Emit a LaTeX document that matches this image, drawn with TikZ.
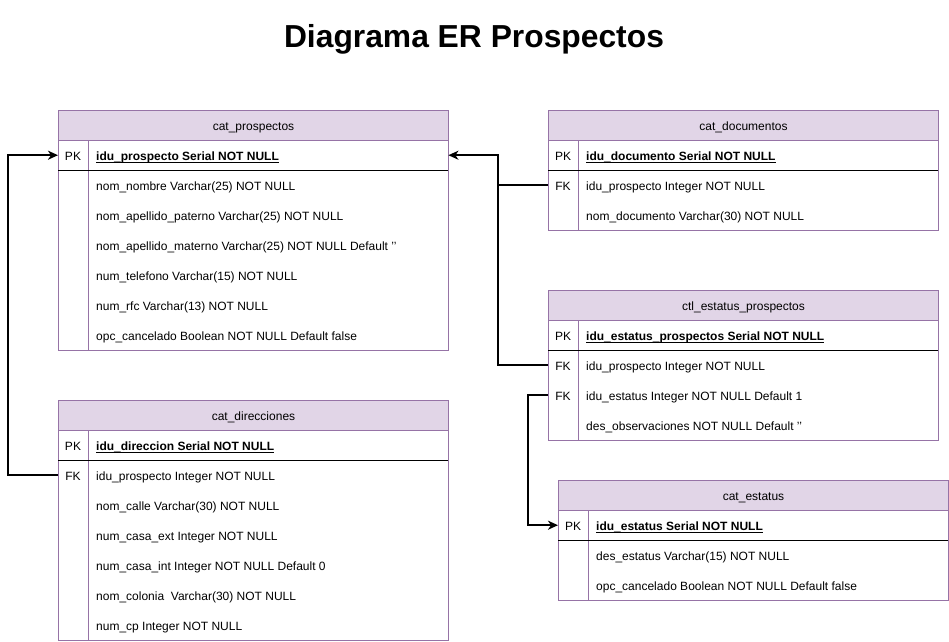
\documentclass[tikz,border=0pt]{standalone}
\usepackage{fontspec}
\setmainfont{Liberation Sans}
\usetikzlibrary{arrows.meta}
\definecolor{hdrfill}{HTML}{E1D5E7}
\definecolor{bordc}{HTML}{9673A6}
\newcommand{\ulx}[1]{\setbox0\hbox{#1}\rlap{\vrule height -1.2pt depth 2.2pt width \wd0}\box0}
\newcommand{\sq}{\symbol{39}}
\tikzset{
  hdr/.style={draw=bordc, fill=hdrfill, line width=1pt, minimum width=390pt, minimum height=30pt, inner sep=0pt, anchor=north west, text height=12pt, text depth=2pt, font=\fontsize{12}{14}\selectfont},
  rowbox/.style={minimum width=390pt, minimum height=30pt, inner sep=0pt, anchor=north west},
  keytxt/.style={inner sep=0pt, anchor=base, font=\fontsize{12}{14}\selectfont},
  valtxt/.style={inner sep=0pt, anchor=base west, font=\fontsize{12}{14}\selectfont},
  border/.style={draw=bordc, line width=1pt},
  pksep/.style={draw=black, line width=1pt},
  conn/.style={draw=black, line width=2pt, -{Stealth[length=10pt,width=9pt,inset=3pt]}},
  plain/.style={draw=black, line width=2pt}
}
\newcommand{\erow}[5]{%
  \node[rowbox] (#1) at (#2,#3) {};
  \node[keytxt] (#1k) at ([xshift=15pt,yshift=-5.4pt]#1.west) {#4};
  \node[valtxt] (#1v) at ([xshift=38pt,yshift=-5.4pt]#1.west) {#5};
}
\begin{document}
\begin{tikzpicture}[x=1pt,y=-1pt]
\useasboundingbox[fill=white] (0,0) rectangle (949,641);

\node[font=\fontsize{31.8}{36}\selectfont\bfseries, anchor=base, inner sep=0pt] (title) at (474,47) {Diagrama ER Prospectos};

% cat_prospectos
\node[hdr] (pro) at (58,110) {cat\_prospectos};
\erow{proPK}{58}{140}{PK}{\ulx{\textbf{idu\_prospecto Serial NOT NULL}}}
\erow{proR1}{58}{170}{}{nom\_nombre Varchar(25) NOT NULL}
\erow{proR2}{58}{200}{}{nom\_apellido\_paterno Varchar(25) NOT NULL}
\erow{proR3}{58}{230}{}{nom\_apellido\_materno Varchar(25) NOT NULL Default \sq\sq}
\erow{proR4}{58}{260}{}{num\_telefono Varchar(15) NOT NULL}
\erow{proR5}{58}{290}{}{num\_rfc Varchar(13) NOT NULL}
\erow{proR6}{58}{320}{}{opc\_cancelado Boolean NOT NULL Default false}
\draw[border] (proPK.north west) rectangle (proR6.south east);
\draw[border] ([xshift=30pt]proPK.north west) -- ([xshift=30pt]proR6.south west);
\draw[pksep] (proPK.south west) -- (proPK.south east);

% cat_documentos
\node[hdr] (doc) at (548,110) {cat\_documentos};
\erow{docPK}{548}{140}{PK}{\ulx{\textbf{idu\_documento Serial NOT NULL}}}
\erow{docFK}{548}{170}{FK}{idu\_prospecto Integer NOT NULL}
\erow{docR2}{548}{200}{}{nom\_documento Varchar(30) NOT NULL}
\draw[border] (docPK.north west) rectangle (docR2.south east);
\draw[border] ([xshift=30pt]docPK.north west) -- ([xshift=30pt]docR2.south west);
\draw[pksep] (docPK.south west) -- (docPK.south east);

% ctl_estatus_prospectos
\node[hdr] (cep) at (548,290) {ctl\_estatus\_prospectos};
\erow{cepPK}{548}{320}{PK}{\ulx{\textbf{idu\_estatus\_prospectos Serial NOT NULL}}}
\erow{cepFKa}{548}{350}{FK}{idu\_prospecto Integer NOT NULL}
\erow{cepFKb}{548}{380}{FK}{idu\_estatus Integer NOT NULL Default 1}
\erow{cepR3}{548}{410}{}{des\_observaciones NOT NULL Default \sq\sq}
\draw[border] (cepPK.north west) rectangle (cepR3.south east);
\draw[border] ([xshift=30pt]cepPK.north west) -- ([xshift=30pt]cepR3.south west);
\draw[pksep] (cepPK.south west) -- (cepPK.south east);

% cat_direcciones
\node[hdr] (dir) at (58,400) {cat\_direcciones};
\erow{dirPK}{58}{430}{PK}{\ulx{\textbf{idu\_direccion Serial NOT NULL}}}
\erow{dirFK}{58}{460}{FK}{idu\_prospecto Integer NOT NULL}
\erow{dirR2}{58}{490}{}{nom\_calle Varchar(30) NOT NULL}
\erow{dirR3}{58}{520}{}{num\_casa\_ext Integer NOT NULL}
\erow{dirR4}{58}{550}{}{num\_casa\_int Integer NOT NULL Default 0}
\erow{dirR5}{58}{580}{}{nom\_colonia\ \ Varchar(30) NOT NULL}
\erow{dirR6}{58}{610}{}{num\_cp Integer NOT NULL}
\draw[border] (dirPK.north west) rectangle (dirR6.south east);
\draw[border] ([xshift=30pt]dirPK.north west) -- ([xshift=30pt]dirR6.south west);
\draw[pksep] (dirPK.south west) -- (dirPK.south east);

% cat_estatus
\node[hdr] (est) at (558,480) {cat\_estatus};
\erow{estPK}{558}{510}{PK}{\ulx{\textbf{idu\_estatus Serial NOT NULL}}}
\erow{estR1}{558}{540}{}{des\_estatus Varchar(15) NOT NULL}
\erow{estR2}{558}{570}{}{opc\_cancelado Boolean NOT NULL Default false}
\draw[border] (estPK.north west) rectangle (estR2.south east);
\draw[border] ([xshift=30pt]estPK.north west) -- ([xshift=30pt]estR2.south west);
\draw[pksep] (estPK.south west) -- (estPK.south east);

% connectors
\draw[conn] (dirFK.west) -- ++(-50,0) |- (proPK.west);
\draw[conn] (docFK.west) -- ++(-50,0) |- (proPK.east);
\draw[plain] (cepFKa.west) -- ++(-50,0) |- (docFK.west);
\draw[conn] (cepFKb.west) -- ++(-20,0) |- (estPK.west);
\end{tikzpicture}
\end{document}
